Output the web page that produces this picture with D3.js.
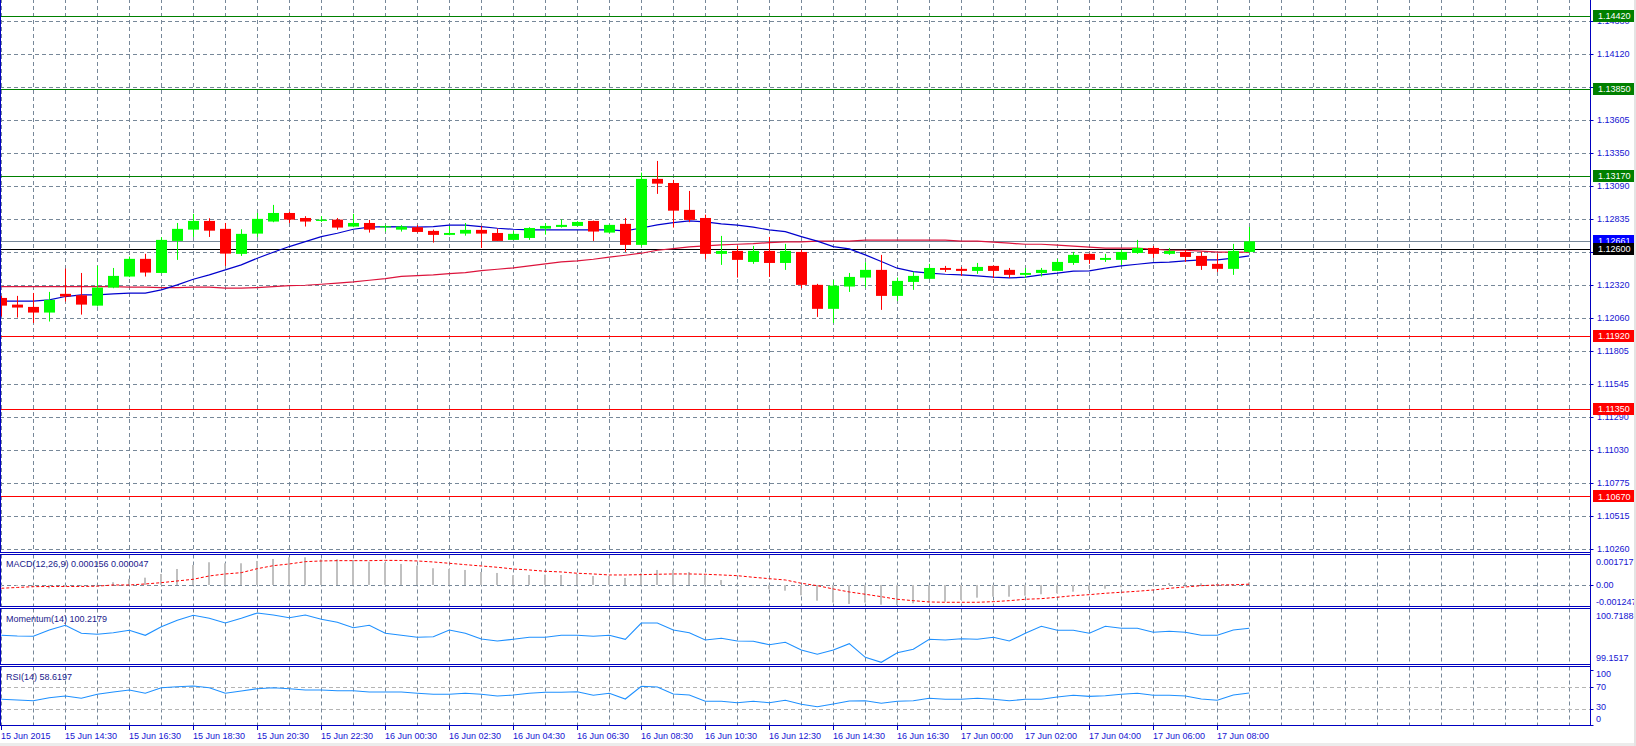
<!DOCTYPE html>
<html><head><meta charset="utf-8">
<script src="https://cdn.jsdelivr.net/npm/d3@7/dist/d3.min.js"></script>
<style>body{margin:0;background:#fff;overflow:hidden}svg{display:block}text{font-family:"Liberation Sans",Arial,sans-serif;font-size:9px}</style>
</head><body><svg id="c" width="1636" height="746"></svg>
<script>
// ---------- DATA ----------
const opens  = [1.12219,1.12167,1.12149,1.12105,1.12251,1.12240,1.12159,1.12300,1.12386,1.12524,1.12414,1.12664,1.12752,1.12820,1.12758,1.12563,1.12721,1.12815,1.12882,1.12843,1.12820,1.12830,1.12776,1.12804,1.12771,1.12752,1.12771,1.12742,1.12711,1.12721,1.12750,1.12726,1.12672,1.12687,1.12760,1.12773,1.12781,1.12820,1.12729,1.12797,1.12633,1.13148,1.13116,1.12906,1.12843,1.12563,1.12586,1.12500,1.12586,1.12492,1.12578,1.12321,1.12134,1.12308,1.12378,1.12438,1.12235,1.12344,1.12368,1.12453,1.12446,1.12430,1.12469,1.12438,1.12399,1.12414,1.12430,1.12492,1.12563,1.12516,1.12516,1.12570,1.12609,1.12563,1.12578,1.12547,1.12485,1.12446,1.12578];
const highs  = [1.12235,1.12235,1.12258,1.12266,1.12448,1.12414,1.12469,1.12453,1.12542,1.12563,1.12693,1.12804,1.12875,1.12841,1.12804,1.12755,1.12882,1.12945,1.12890,1.12857,1.12857,1.12843,1.12875,1.12828,1.12789,1.12787,1.12787,1.12752,1.12779,1.12804,1.12779,1.12760,1.12740,1.12771,1.12802,1.12833,1.12818,1.12822,1.12792,1.12843,1.13197,1.13288,1.13140,1.13054,1.12869,1.12703,1.12625,1.12625,1.12695,1.12641,1.12594,1.12329,1.12360,1.12414,1.12498,1.12555,1.12378,1.12422,1.12485,1.12469,1.12461,1.12492,1.12472,1.12453,1.12453,1.12453,1.12524,1.12578,1.12566,1.12563,1.12594,1.12672,1.12625,1.12609,1.12594,1.12578,1.12563,1.12641,1.12773];
const lows   = [1.12074,1.12066,1.12024,1.12035,1.12191,1.12089,1.12152,1.12295,1.12381,1.12386,1.12412,1.12516,1.12695,1.12695,1.12469,1.12547,1.12695,1.12810,1.12804,1.12776,1.12812,1.12752,1.12771,1.12729,1.12737,1.12737,1.12729,1.12651,1.12708,1.12705,1.12609,1.12664,1.12672,1.12672,1.12713,1.12768,1.12778,1.12664,1.12726,1.12578,1.12620,1.13031,1.12768,1.12810,1.12524,1.12477,1.12378,1.12485,1.12383,1.12438,1.12295,1.12071,1.12024,1.12266,1.12300,1.12126,1.12196,1.12282,1.12368,1.12422,1.12391,1.12407,1.12375,1.12375,1.12375,1.12386,1.12428,1.12477,1.12485,1.12500,1.12477,1.12563,1.12531,1.12555,1.12500,1.12438,1.12422,1.12399,1.12570];
const closes = [1.12159,1.12144,1.12105,1.12204,1.12230,1.12167,1.12300,1.12391,1.12524,1.12417,1.12672,1.12758,1.12820,1.12744,1.12565,1.12719,1.12836,1.12882,1.12830,1.12815,1.12830,1.12768,1.12804,1.12752,1.12779,1.12776,1.12734,1.12711,1.12726,1.12750,1.12721,1.12664,1.12719,1.12765,1.12781,1.12789,1.12812,1.12737,1.12789,1.12633,1.13148,1.13111,1.12900,1.12828,1.12563,1.12586,1.12516,1.12586,1.12492,1.12586,1.12321,1.12134,1.12315,1.12383,1.12438,1.12235,1.12352,1.12391,1.12453,1.12438,1.12430,1.12461,1.12430,1.12399,1.12414,1.12438,1.12500,1.12555,1.12516,1.12531,1.12578,1.12609,1.12563,1.12586,1.12539,1.12469,1.12446,1.12586,1.12661];
const maFast = [1.12194,1.12194,1.12194,1.12204,1.12230,1.12243,1.12243,1.12251,1.12256,1.12256,1.12282,1.12321,1.12365,1.12399,1.12438,1.12477,1.12529,1.12576,1.12620,1.12659,1.12698,1.12724,1.12755,1.12771,1.12776,1.12773,1.12771,1.12776,1.12787,1.12787,1.12776,1.12763,1.12755,1.12750,1.12750,1.12750,1.12750,1.12750,1.12750,1.12742,1.12765,1.12789,1.12807,1.12820,1.12812,1.12797,1.12787,1.12771,1.12750,1.12737,1.12698,1.12662,1.12620,1.12602,1.12555,1.12503,1.12451,1.12425,1.12412,1.12404,1.12399,1.12391,1.12381,1.12375,1.12381,1.12399,1.12412,1.12428,1.12430,1.12451,1.12469,1.12482,1.12495,1.12498,1.12508,1.12516,1.12516,1.12529,1.12547];
const maSlow = [1.12308,1.12308,1.12308,1.12308,1.12308,1.12308,1.12308,1.12308,1.12303,1.12303,1.12300,1.12300,1.12303,1.12303,1.12295,1.12295,1.12300,1.12308,1.12315,1.12318,1.12326,1.12334,1.12344,1.12357,1.12370,1.12387,1.12393,1.12399,1.12409,1.12417,1.12432,1.12443,1.12453,1.12469,1.12485,1.12500,1.12508,1.12521,1.12537,1.12552,1.12568,1.12591,1.12604,1.12617,1.12625,1.12633,1.12638,1.12643,1.12651,1.12656,1.12656,1.12662,1.12662,1.12662,1.12670,1.12670,1.12670,1.12670,1.12670,1.12670,1.12662,1.12662,1.12654,1.12646,1.12638,1.12638,1.12631,1.12623,1.12615,1.12607,1.12607,1.12607,1.12599,1.12591,1.12591,1.12584,1.12576,1.12576,1.12576];
const macdMain = [-0.000059,-0.000059,-0.000136,-0.000196,-0.000101,-0.000059,0.000010,0.000160,0.000356,0.000433,0.000652,0.000948,0.001186,0.001346,0.001286,0.001286,0.001423,0.001541,0.001642,0.001642,0.001523,0.001523,0.001482,0.001381,0.001322,0.001245,0.001144,0.000990,0.000948,0.000889,0.000771,0.000711,0.000575,0.000593,0.000611,0.000593,0.000652,0.000534,0.000534,0.000415,0.000694,0.000889,0.000889,0.000771,0.000575,0.000296,0.000059,-0.000059,-0.000255,-0.000338,-0.000611,-0.000931,-0.001049,-0.001126,-0.001049,-0.001168,-0.001186,-0.001085,-0.001049,-0.000990,-0.000889,-0.000753,-0.000694,-0.000694,-0.000634,-0.000551,-0.000492,-0.000397,-0.000296,-0.000219,-0.000136,-0.000059,-0.000030,0.000119,0.000119,0.000101,0.000041,0.000041,0.000156];
const macdSignal = [-0.000196,-0.000148,-0.000101,-0.000089,-0.000089,-0.000089,-0.000071,0.000000,0.000000,0.000059,0.000136,0.000237,0.000338,0.000534,0.000652,0.000729,0.000966,0.001144,0.001245,0.001381,0.001423,0.001441,0.001441,0.001441,0.001458,0.001452,0.001423,0.001363,0.001286,0.001203,0.001126,0.001049,0.000948,0.000889,0.000812,0.000771,0.000694,0.000652,0.000593,0.000593,0.000611,0.000634,0.000652,0.000652,0.000634,0.000593,0.000551,0.000456,0.000373,0.000296,0.000101,-0.000041,-0.000237,-0.000415,-0.000551,-0.000694,-0.000848,-0.000931,-0.001008,-0.001026,-0.001026,-0.001026,-0.000990,-0.000931,-0.000848,-0.000812,-0.000729,-0.000634,-0.000575,-0.000492,-0.000433,-0.000373,-0.000296,-0.000196,-0.000119,-0.000041,0.000000,0.000010,0.000047];
const momentum = [100.0029,99.9814,99.9721,100.1657,100.3101,100.0643,100.0336,100.0828,100.1565,100.0029,100.2671,100.4638,100.6174,100.5252,100.3808,100.5252,100.6881,100.6266,100.5437,100.6266,100.4945,100.4023,100.2364,100.3101,100.0643,100.0029,99.9414,99.9598,100.1657,100.0643,99.8892,99.8277,99.8800,99.9414,99.9414,100.0029,100.0029,99.9721,100.0029,99.8800,100.3808,100.3808,100.1657,100.0828,99.8584,99.9107,99.8277,99.8185,99.7140,99.7878,99.5512,99.4190,99.5512,99.7448,99.3269,99.1732,99.4682,99.5727,99.8800,99.8584,99.8984,99.8800,99.9414,99.8277,100.0643,100.2794,100.1565,100.1565,100.0643,100.2794,100.2179,100.2179,100.0950,100.1258,100.0950,100.0029,100.0029,100.1657,100.2179];
const rsi = [47.1,45.8,44.5,50.0,53.1,48.9,56.2,60.4,64.0,58.0,68.2,70.0,71.3,68.2,58.0,62.2,66.4,68.2,66.4,64.0,64.0,62.7,62.7,60.4,60.4,60.4,58.0,56.2,56.2,58.0,56.2,53.1,54.9,58.0,59.8,59.8,60.9,54.4,58.0,47.6,70.7,69.5,56.7,54.9,43.5,43.5,40.9,43.5,40.9,45.3,38.0,33.6,38.5,44.0,44.5,39.8,43.5,44.5,48.9,47.1,47.1,48.9,47.1,44.5,47.1,47.1,51.3,54.4,52.5,53.6,56.2,58.0,54.4,54.4,53.1,47.6,45.3,54.9,58.6197];
const priceTicks = [1.14380,1.14120,1.13865,1.13605,1.13350,1.13090,1.12835,1.12575,1.12320,1.12060,1.11805,1.11545,1.11290,1.11030,1.10775,1.10515,1.10260];
const priceTickLabels = ["1.14380","1.14120","1.13865","1.13605","1.13350","1.13090","1.12835","1.12575","1.12320","1.12060","1.11805","1.11545","1.11290","1.11030","1.10775","1.10515","1.10260"];
const timeLabels = ["15 Jun 2015","15 Jun 14:30","15 Jun 16:30","15 Jun 18:30","15 Jun 20:30","15 Jun 22:30","16 Jun 00:30","16 Jun 02:30","16 Jun 04:30","16 Jun 06:30","16 Jun 08:30","16 Jun 10:30","16 Jun 12:30","16 Jun 14:30","16 Jun 16:30","17 Jun 00:00","17 Jun 02:00","17 Jun 04:00","17 Jun 06:00","17 Jun 08:00"];
const resistanceLevels = [1.14420,1.13850,1.13170];
const supportLevels = [1.11920,1.11350,1.10670];
const bidPrice = 1.12661;
const pivotLevel = 1.12600;
const macdTicks = [{v:0.001717,t:"0.001717"},{v:0,t:"0.00"},{v:-0.001247,t:"-0.001247"}];
const momTicks = [{v:100.7188,t:"100.7188"},{v:99.1517,t:"99.1517"}];
const rsiTicks = [100,70,30,0];
const rsiLevels = [70,30];

// ---------- LAYOUT ----------
const svg = d3.select('#c');
const AX = 1590.5;
const BLUE = '#0000c0', GRID = '#778899', TXT = '#1414d2';
const panels = {
  main:{top:-1,bottom:552.5}, macd:{top:554.5,bottom:606.5},
  mom:{top:608.5,bottom:664.5}, rsi:{top:666.5,bottom:725.5}
};
const n = closes.length;
const x = d3.scaleLinear().domain([0,n-1]).range([1.3,1249.3]);
const yMain = d3.scaleLinear().domain([1.14380,1.10260]).range([21,549]);
const yMacd = d3.scaleLinear().domain([-0.001247,0.001717]).range([606,556]);
const yMom = d3.scaleLinear().domain([99.1517,100.7188]).range([663,612]);
const yRsi = d3.scaleLinear().domain([0,100]).range([725.2,670.2]);
const px = v => Math.round(v)+0.5;

svg.append('rect').attr('width',1636).attr('height',746).attr('fill','#fff');
const defs = svg.append('defs');
Object.entries(panels).forEach(([k,p])=>{
  defs.append('clipPath').attr('id','cp-'+k).append('rect')
    .attr('x',1).attr('y',p.top+0.5).attr('width',AX-1.5).attr('height',p.bottom-p.top-1);
});

// vertical grid
const gridIdx = d3.range(0,100,2).filter(i=>x(i)<AX-2);
Object.entries(panels).forEach(([k,p])=>{
  const g = svg.append('g').attr('clip-path',`url(#cp-${k})`);
  g.selectAll('line').data(gridIdx).join('line')
    .attr('x1',d=>px(x(d))).attr('x2',d=>px(x(d)))
    .attr('y1',p.top).attr('y2',p.bottom)
    .attr('stroke',GRID).attr('stroke-dasharray','4,3').attr('stroke-width',1);
});

// main horizontal grid
const gMain = svg.append('g').attr('clip-path','url(#cp-main)');
gMain.selectAll('line.hg').data(priceTicks).join('line').attr('class','hg')
  .attr('x1',0).attr('x2',AX).attr('y1',d=>px(yMain(d))).attr('y2',d=>px(yMain(d)))
  .attr('stroke',GRID).attr('stroke-dasharray','4,3');

// levels
const lvl = (v,c)=>gMain.append('line').attr('x1',0).attr('x2',AX)
  .attr('y1',px(yMain(v))).attr('y2',px(yMain(v))).attr('stroke',c).attr('stroke-width',1.1);
resistanceLevels.forEach(v=>lvl(v,'#008000'));
supportLevels.forEach(v=>lvl(v,'#ff0000'));
lvl(bidPrice,'#778899');
lvl(pivotLevel,'#000000');

// moving averages
const lineGen = (arr,ys)=>d3.line().x((d,i)=>x(i)).y(d=>ys(d))(arr);
gMain.append('path').attr('d',lineGen(maSlow,yMain)).attr('fill','none').attr('stroke','#dc143c').attr('stroke-width',1.2);
gMain.append('path').attr('d',lineGen(maFast,yMain)).attr('fill','none').attr('stroke','#0000cd').attr('stroke-width',1.2);

// candles
const cd = d3.range(n).map(i=>({i,o:opens[i],h:highs[i],l:lows[i],c:closes[i]}));
const cg = gMain.append('g');
cg.selectAll('line.w').data(cd).join('line').attr('class','w')
  .attr('x1',d=>px(x(d.i))).attr('x2',d=>px(x(d.i)))
  .attr('y1',d=>yMain(d.h)).attr('y2',d=>yMain(d.l))
  .attr('stroke',d=>d.c>=d.o?'#00ff00':'#ff0000').attr('stroke-width',1);
cg.selectAll('rect.b').data(cd).join('rect').attr('class','b')
  .attr('x',d=>Math.round(x(d.i))-5).attr('width',11)
  .attr('y',d=>yMain(Math.max(d.o,d.c)))
  .attr('height',d=>Math.max(1.2,yMain(Math.min(d.o,d.c))-yMain(Math.max(d.o,d.c))))
  .attr('fill',d=>d.c>=d.o?'#00ff00':'#ff0000');

// MACD panel
const gMacd = svg.append('g').attr('clip-path','url(#cp-macd)');
gMacd.append('line').attr('x1',0).attr('x2',AX).attr('y1',px(yMacd(0))).attr('y2',px(yMacd(0)))
  .attr('stroke',GRID).attr('stroke-dasharray','4,3');
gMacd.selectAll('rect').data(macdMain).join('rect')
  .attr('x',(d,i)=>Math.round(x(i))-1).attr('width',2)
  .attr('y',d=>Math.min(yMacd(d),yMacd(0))).attr('height',d=>Math.abs(yMacd(d)-yMacd(0)))
  .attr('fill','#c0c0c0');
gMacd.append('path').attr('d',lineGen(macdSignal,yMacd)).attr('fill','none')
  .attr('stroke','#ff0000').attr('stroke-width',1).attr('stroke-dasharray','3,2');

// Momentum panel
const gMom = svg.append('g').attr('clip-path','url(#cp-mom)');
gMom.append('path').attr('d',lineGen(momentum,yMom)).attr('fill','none').attr('stroke','#1e90ff').attr('stroke-width',1.1);

// RSI panel
const gRsi = svg.append('g').attr('clip-path','url(#cp-rsi)');
gRsi.selectAll('line').data(rsiLevels).join('line')
  .attr('x1',0).attr('x2',AX).attr('y1',d=>px(yRsi(d))).attr('y2',d=>px(yRsi(d)))
  .attr('stroke','#b4b4b4').attr('stroke-dasharray','4,3');
gRsi.append('path').attr('d',lineGen(rsi,yRsi)).attr('fill','none').attr('stroke','#1e90ff').attr('stroke-width',1.1);

// panel borders
Object.values(panels).forEach(p=>{
  svg.append('rect').attr('x',0.5).attr('y',p.top).attr('width',AX-0.5).attr('height',p.bottom-p.top)
    .attr('fill','none').attr('stroke',BLUE).attr('stroke-width',1);
});
svg.append('line').attr('x1',AX).attr('x2',AX).attr('y1',0).attr('y2',726).attr('stroke',BLUE);

// indicator titles
const title = (t,y)=>svg.append('text').attr('x',6).attr('y',y).attr('dy','0.35em').attr('fill','#1a1a8c').text(t);
title('MACD(12,26,9) 0.000156 0.000047',564);
title('Momentum(14) 100.2179',619);
title('RSI(14) 58.6197',677);

// right price axis
const ra = svg.append('g');
ra.selectAll('line').data(priceTicks).join('line')
  .attr('x1',AX).attr('x2',AX+3).attr('y1',d=>px(yMain(d))).attr('y2',d=>px(yMain(d))).attr('stroke',BLUE);
ra.selectAll('text').data(priceTicks).join('text')
  .attr('x',1597).attr('y',d=>yMain(d)).attr('dy','0.35em').attr('fill',TXT)
  .text((d,i)=>priceTickLabels[i]);

const box = (v,fill)=>{
  const y = yMain(v);
  svg.append('rect').attr('x',1593).attr('y',Math.round(y)-6).attr('width',41).attr('height',12).attr('fill',fill);
  svg.append('text').attr('x',1598).attr('y',y).attr('dy','0.35em').attr('fill','#fff').text(v.toFixed(5));
};
resistanceLevels.forEach(v=>box(v,'#008000'));
supportLevels.forEach(v=>box(v,'#ff0000'));
box(bidPrice,'#0000ff');
box(pivotLevel,'#000000');

// sub-panel axes
const subLabel = (t,y)=>svg.append('text').attr('x',1596).attr('y',y).attr('dy','0.35em').attr('fill',TXT).text(t);
subLabel(macdTicks[0].t, yMacd(macdTicks[0].v)+5.5);
subLabel(macdTicks[1].t, yMacd(macdTicks[1].v));
subLabel(macdTicks[2].t, yMacd(macdTicks[2].v)-4);
svg.append('line').attr('x1',AX).attr('x2',AX+3).attr('y1',px(yMacd(0))).attr('y2',px(yMacd(0))).attr('stroke',BLUE);
subLabel(momTicks[0].t, yMom(momTicks[0].v)+4);
subLabel(momTicks[1].t, yMom(momTicks[1].v)-5);
rsiTicks.forEach(v=>{
  const off = v===100?4:(v===0?-6:(v===30?-2:0));
  subLabel(String(v), yRsi(v)+off);
  svg.append('line').attr('x1',AX).attr('x2',AX+3).attr('y1',px(yRsi(v))).attr('y2',px(yRsi(v))).attr('stroke',BLUE);
});

// time axis
const tIdx = timeLabels.map((t,k)=>k*4);
svg.selectAll('line.tt').data(tIdx).join('line').attr('class','tt')
  .attr('x1',d=>px(x(d))).attr('x2',d=>px(x(d))).attr('y1',726).attr('y2',730).attr('stroke',BLUE);
svg.selectAll('text.tl').data(tIdx).join('text').attr('class','tl')
  .attr('x',d=>Math.round(x(d))).attr('y',735.5).attr('dy','0.35em').attr('fill',TXT)
  .text((d,k)=>timeLabels[k]);

// window edges
svg.append('rect').attr('x',0).attr('y',743).attr('width',1636).attr('height',3).attr('fill','#ececec');
svg.append('rect').attr('x',1634).attr('y',0).attr('width',2).attr('height',746).attr('fill','#e4e4e4');
</script></body></html>
